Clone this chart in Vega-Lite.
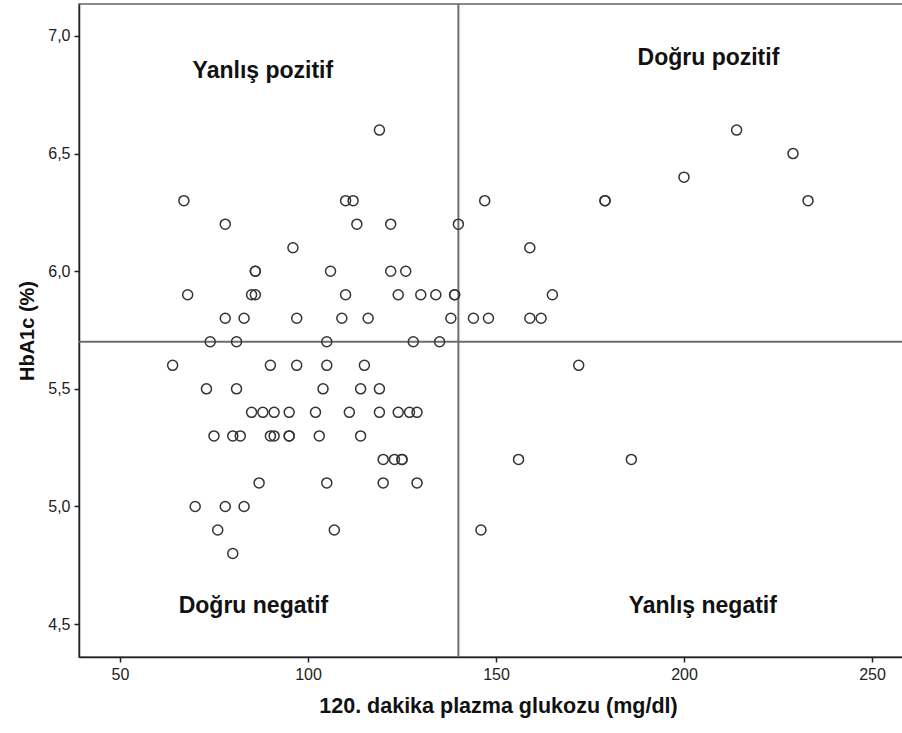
{
  "$schema": "https://vega.github.io/schema/vega-lite/v6.json",
  "autosize": "none",
  "padding": {"left": 79, "top": 4, "right": 0, "bottom": 76},
  "width": 824,
  "height": 653,
  "background": "white",
  "view": {"stroke": "#8a8a8a", "strokeWidth": 2},
  "config": {
    "font": "Liberation Sans",
    "axis": {
      "grid": false,
      "domainColor": "#222222",
      "domainWidth": 1.5,
      "tickColor": "#222222",
      "tickWidth": 1.5,
      "tickSize": 5,
      "labelFont": "Liberation Sans",
      "labelFontSize": 16,
      "labelColor": "#222222",
      "titleFont": "Liberation Sans",
      "titleFontSize": 20,
      "titleFontWeight": "bold",
      "titleColor": "#111111"
    }
  },
  "datasets": {
    "hasta": [
      {"glukoz": 119, "hba1c": 6.6}, {"glukoz": 214, "hba1c": 6.6},
      {"glukoz": 229, "hba1c": 6.5},
      {"glukoz": 200, "hba1c": 6.4},
      {"glukoz": 67, "hba1c": 6.3}, {"glukoz": 110, "hba1c": 6.3}, {"glukoz": 112, "hba1c": 6.3},
      {"glukoz": 147, "hba1c": 6.3}, {"glukoz": 179, "hba1c": 6.3}, {"glukoz": 179, "hba1c": 6.3},
      {"glukoz": 233, "hba1c": 6.3},
      {"glukoz": 78, "hba1c": 6.2}, {"glukoz": 113, "hba1c": 6.2}, {"glukoz": 122, "hba1c": 6.2},
      {"glukoz": 140, "hba1c": 6.2},
      {"glukoz": 96, "hba1c": 6.1}, {"glukoz": 159, "hba1c": 6.1},
      {"glukoz": 86, "hba1c": 6.0}, {"glukoz": 86, "hba1c": 6.0}, {"glukoz": 106, "hba1c": 6.0},
      {"glukoz": 122, "hba1c": 6.0}, {"glukoz": 126, "hba1c": 6.0},
      {"glukoz": 68, "hba1c": 5.9}, {"glukoz": 85, "hba1c": 5.9}, {"glukoz": 86, "hba1c": 5.9},
      {"glukoz": 110, "hba1c": 5.9}, {"glukoz": 124, "hba1c": 5.9}, {"glukoz": 130, "hba1c": 5.9},
      {"glukoz": 134, "hba1c": 5.9}, {"glukoz": 139, "hba1c": 5.9}, {"glukoz": 139, "hba1c": 5.9},
      {"glukoz": 165, "hba1c": 5.9},
      {"glukoz": 78, "hba1c": 5.8}, {"glukoz": 83, "hba1c": 5.8}, {"glukoz": 97, "hba1c": 5.8},
      {"glukoz": 109, "hba1c": 5.8}, {"glukoz": 116, "hba1c": 5.8}, {"glukoz": 138, "hba1c": 5.8},
      {"glukoz": 144, "hba1c": 5.8}, {"glukoz": 148, "hba1c": 5.8}, {"glukoz": 159, "hba1c": 5.8},
      {"glukoz": 162, "hba1c": 5.8},
      {"glukoz": 74, "hba1c": 5.7}, {"glukoz": 81, "hba1c": 5.7}, {"glukoz": 105, "hba1c": 5.7},
      {"glukoz": 128, "hba1c": 5.7}, {"glukoz": 135, "hba1c": 5.7},
      {"glukoz": 64, "hba1c": 5.6}, {"glukoz": 90, "hba1c": 5.6}, {"glukoz": 97, "hba1c": 5.6},
      {"glukoz": 105, "hba1c": 5.6}, {"glukoz": 115, "hba1c": 5.6}, {"glukoz": 172, "hba1c": 5.6},
      {"glukoz": 73, "hba1c": 5.5}, {"glukoz": 81, "hba1c": 5.5}, {"glukoz": 104, "hba1c": 5.5},
      {"glukoz": 114, "hba1c": 5.5}, {"glukoz": 119, "hba1c": 5.5},
      {"glukoz": 85, "hba1c": 5.4}, {"glukoz": 88, "hba1c": 5.4}, {"glukoz": 91, "hba1c": 5.4},
      {"glukoz": 95, "hba1c": 5.4}, {"glukoz": 102, "hba1c": 5.4}, {"glukoz": 111, "hba1c": 5.4},
      {"glukoz": 119, "hba1c": 5.4}, {"glukoz": 124, "hba1c": 5.4}, {"glukoz": 127, "hba1c": 5.4},
      {"glukoz": 129, "hba1c": 5.4},
      {"glukoz": 75, "hba1c": 5.3}, {"glukoz": 80, "hba1c": 5.3}, {"glukoz": 82, "hba1c": 5.3},
      {"glukoz": 90, "hba1c": 5.3}, {"glukoz": 91, "hba1c": 5.3}, {"glukoz": 95, "hba1c": 5.3},
      {"glukoz": 95, "hba1c": 5.3}, {"glukoz": 103, "hba1c": 5.3}, {"glukoz": 114, "hba1c": 5.3},
      {"glukoz": 120, "hba1c": 5.2}, {"glukoz": 123, "hba1c": 5.2}, {"glukoz": 125, "hba1c": 5.2},
      {"glukoz": 125, "hba1c": 5.2}, {"glukoz": 156, "hba1c": 5.2}, {"glukoz": 186, "hba1c": 5.2},
      {"glukoz": 87, "hba1c": 5.1}, {"glukoz": 105, "hba1c": 5.1}, {"glukoz": 120, "hba1c": 5.1},
      {"glukoz": 129, "hba1c": 5.1},
      {"glukoz": 70, "hba1c": 5.0}, {"glukoz": 78, "hba1c": 5.0}, {"glukoz": 83, "hba1c": 5.0},
      {"glukoz": 76, "hba1c": 4.9}, {"glukoz": 107, "hba1c": 4.9}, {"glukoz": 146, "hba1c": 4.9},
      {"glukoz": 80, "hba1c": 4.8}
    ],
    "esik_glukoz": [{"glukoz": 140}],
    "esik_hba1c": [{"hba1c": 5.7}],
    "bolgeler": [
      {"etiket": "Yanlış pozitif", "glukoz": 88, "hba1c": 6.85},
      {"etiket": "Doğru pozitif", "glukoz": 206.5, "hba1c": 6.905},
      {"etiket": "Doğru negatif", "glukoz": 85.5, "hba1c": 4.577},
      {"etiket": "Yanlış negatif", "glukoz": 205, "hba1c": 4.577}
    ]
  },
  "layer": [
    {
      "data": {"name": "esik_glukoz"},
      "mark": {"type": "rule", "color": "#6e6e6e", "strokeWidth": 2},
      "encoding": {
        "x": {"field": "glukoz", "type": "quantitative", "scale": {"domain": [39.1, 258.25], "nice": false, "zero": false}}
      }
    },
    {
      "data": {"name": "esik_hba1c"},
      "mark": {"type": "rule", "color": "#6e6e6e", "strokeWidth": 2},
      "encoding": {
        "y": {"field": "hba1c", "type": "quantitative", "scale": {"domain": [4.36, 7.136], "nice": false, "zero": false}}
      }
    },
    {
      "data": {"name": "hasta"},
      "mark": {"type": "point", "shape": "circle", "filled": false, "size": 100, "strokeWidth": 1.5, "color": "#333333", "opacity": 1},
      "encoding": {
        "x": {
          "field": "glukoz", "type": "quantitative",
          "scale": {"domain": [39.1, 258.25], "nice": false, "zero": false},
          "axis": {"values": [50, 100, 150, 200, 250], "format": "d", "labelPadding": 4, "titlePadding": 13, "titleFontSize": 21.5, "titleX": 419, "title": "120. dakika plazma glukozu (mg/dl)"}
        },
        "y": {
          "field": "hba1c", "type": "quantitative",
          "scale": {"domain": [4.36, 7.136], "nice": false, "zero": false},
          "axis": {
            "values": [4.5, 5.0, 5.5, 6.0, 6.5, 7.0],
            "labelExpr": "replace(format(datum.value, '.1f'), '.', ',')",
            "labelPadding": 4,
            "titlePadding": 10,
            "title": "HbA1c (%)"
          }
        }
      }
    },
    {
      "data": {"name": "bolgeler"},
      "mark": {"type": "text", "font": "Liberation Sans", "fontSize": 23, "fontWeight": "bold", "color": "#111111", "align": "center", "baseline": "middle"},
      "encoding": {
        "x": {"field": "glukoz", "type": "quantitative"},
        "y": {"field": "hba1c", "type": "quantitative"},
        "text": {"field": "etiket", "type": "nominal"}
      }
    }
  ]
}
